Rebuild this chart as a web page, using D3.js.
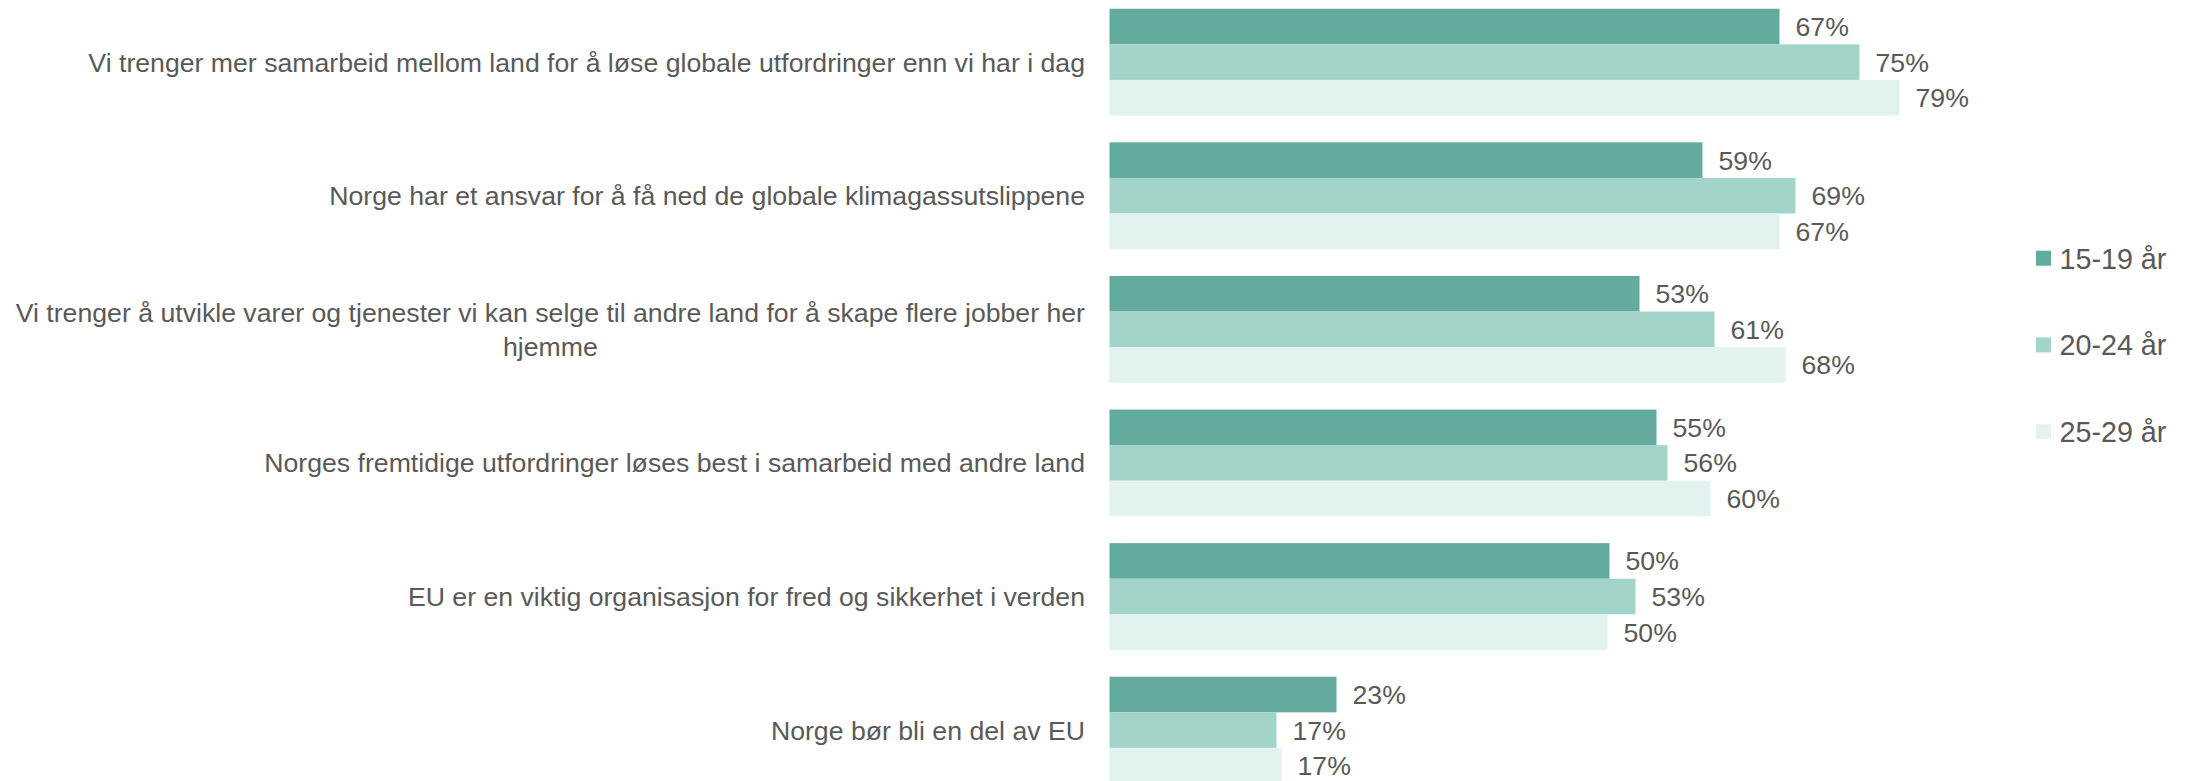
<!DOCTYPE html>
<html>
<head>
<meta charset="utf-8">
<script src="https://cdn.jsdelivr.net/npm/d3@7"></script>
<style>
  html, body { margin: 0; padding: 0; background: #ffffff; }
  svg { display: block; }
  text { font-family: "Liberation Sans", Arial, sans-serif; fill: #595959; }
</style>
</head>
<body>
<svg id="chart" width="2193" height="781"></svg>
<script>
// ---- data ----
const categories = [
  ["Vi trenger mer samarbeid mellom land for å løse globale utfordringer enn vi har i dag"],
  ["Norge har et ansvar for å få ned de globale klimagassutslippene"],
  ["Vi trenger å utvikle varer og tjenester vi kan selge til andre land for å skape flere jobber her", "hjemme"],
  ["Norges fremtidige utfordringer løses best i samarbeid med andre land"],
  ["EU er en viktig organisasjon for fred og sikkerhet i verden"],
  ["Norge bør bli en del av EU"]
];
const seriesNames = ["15-19 år", "20-24 år", "25-29 år"];
const values1519 = [67, 59.3, 53, 54.7, 50, 22.7];
const values2024 = [75, 68.6, 60.5, 55.8, 52.6, 16.7];
const values2529 = [79, 67, 67.6, 60.1, 49.8, 17.2];
const seriesColors = ["#63ab9d", "#a3d4c9", "#e2f2ee"];

const seriesValues = [values1519, values2024, values2529];

// ---- layout ----
const svg = d3.select("#chart");
const x = d3.scaleLinear().domain([0, 100]).range([1109.5, 2109.5]);
const y = d3.scaleBand()
  .domain(d3.range(categories.length))
  .range([-4.66, 796.94])
  .paddingInner(0.2006)
  .paddingOuter(0.1003);
const ySub = d3.scaleBand()
  .domain(d3.range(seriesNames.length))
  .range([0, y.bandwidth()]);

const fmt = v => Math.round(v) + "%";

// bars
const groups = svg.append("g").selectAll("g")
  .data(categories.map((c, i) => i))
  .join("g")
  .attr("transform", i => `translate(0,${y(i)})`);

groups.selectAll("rect")
  .data(i => seriesValues.map((arr, s) => ({ s, v: arr[i] })))
  .join("rect")
  .attr("x", x(0))
  .attr("y", d => ySub(d.s))
  .attr("width", d => x(d.v) - x(0))
  .attr("height", ySub.bandwidth())
  .attr("fill", d => seriesColors[d.s]);

groups.selectAll("text.val")
  .data(i => seriesValues.map((arr, s) => ({ s, v: arr[i] })))
  .join("text")
  .attr("class", "val")
  .attr("x", d => x(d.v) + 16)
  .attr("y", d => ySub(d.s) + ySub.bandwidth() / 2 + 9.5)
  .attr("font-size", 26.67)
  .text(d => fmt(d.v));

// category labels
const labelRight = 1085;
const lineGap = 34;
categories.forEach((lines, i) => {
  const cy = y(i) + y.bandwidth() / 2;
  const n = lines.length;
  const g = svg.append("g");
  const first = g.append("text")
    .attr("x", labelRight)
    .attr("y", cy - (n - 1) * lineGap / 2 + 9.5)
    .attr("text-anchor", "end")
    .attr("font-size", 26.67)
    .text(lines[0]);
  if (n > 1) {
    const w = first.node().getComputedTextLength();
    const center = labelRight - w / 2;
    for (let k = 1; k < n; k++) {
      g.append("text")
        .attr("x", center)
        .attr("y", cy - (n - 1) * lineGap / 2 + k * lineGap + 9.5)
        .attr("text-anchor", "middle")
        .attr("font-size", 26.67)
        .text(lines[k]);
    }
  }
});

// legend
const legendY = d3.scalePoint().domain(d3.range(seriesNames.length)).range([258.2, 431.7]);
const legend = svg.append("g").selectAll("g")
  .data(seriesNames.map((n, i) => i))
  .join("g")
  .attr("transform", i => `translate(2036,${legendY(i)})`);
legend.append("rect")
  .attr("x", 0).attr("y", -7.5)
  .attr("width", 15).attr("height", 15)
  .attr("fill", i => seriesColors[i]);
legend.append("text")
  .attr("x", 23.5)
  .attr("y", 10.5)
  .attr("font-size", 28.7)
  .text(i => seriesNames[i]);
</script>
</body>
</html>
